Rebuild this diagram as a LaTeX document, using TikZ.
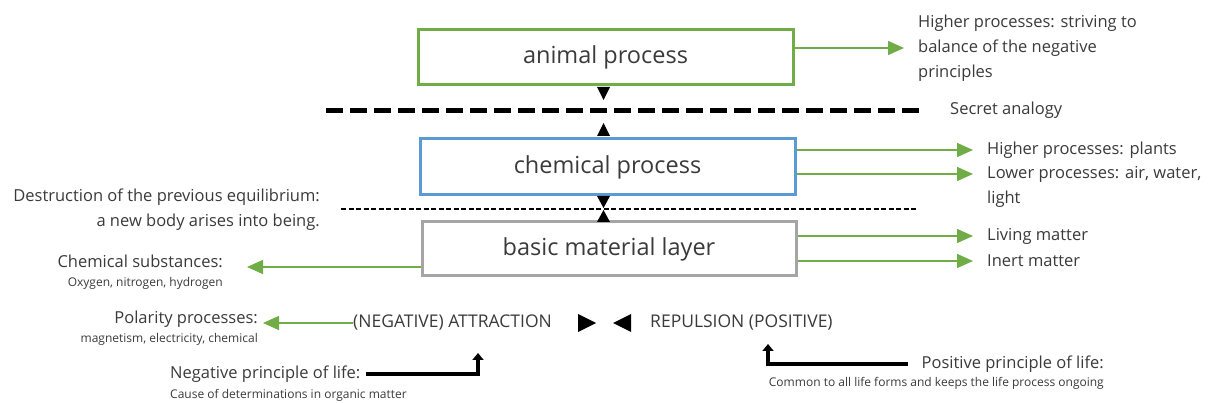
\documentclass[tikz,border=0pt]{standalone}
\usepackage{fontspec}
\setmainfont{Open Sans}
\usetikzlibrary{arrows.meta,calc}
\definecolor{ggreen}{HTML}{70AD47}
\definecolor{bblue}{HTML}{5B9BD5}
\definecolor{ggray}{HTML}{A5A5A5}
\definecolor{txt}{HTML}{3A3A3A}
\begin{document}
\begin{tikzpicture}[x=1pt,y=-1pt,
  box/.style={draw, line width=3pt, minimum width=375pt, minimum height=55pt, inner sep=0pt, text=txt, font=\fontsize{23.5}{28}\selectfont},
  lbl/.style={inner sep=0pt, text=txt, font=\fontsize{16.5}{25}\selectfont},
  caps/.style={inner sep=0pt, text=txt, font=\fontsize{17.5}{25}\selectfont},
  sml/.style={inner sep=0pt, text=txt, font=\fontsize{12}{15}\selectfont},
  garrow/.style={draw=ggreen, line width=1.5pt, -{Triangle[length=16pt,width=14pt]}},
  blkarrow/.style={draw=black, line width=4.5pt, -{Triangle[length=7pt,width=11pt]}},
  bigdash/.style={line width=5pt, dash pattern=on 17pt off 7pt},
  smalldash/.style={line width=1.6pt, dash pattern=on 5pt off 2.5pt}
]
\useasboundingbox (0,0) rectangle (1208,403);

% boxes
\node[box, draw=ggreen] (animal) at (605.5,57) {animal process};
\node[box, draw=bblue, minimum height=56pt] (chem) at (607.5,167) {chemical process};
\node[box, draw=ggray, minimum width=374pt, minimum height=54pt] (basic) at (609,249) {basic material layer};

% dashed separators
\coordinate (d1a) at (326,111);
\coordinate (d1b) at (920,111);
\draw[bigdash] (d1a) -- (d1b);
\coordinate (d2a) at (341,209);
\coordinate (d2b) at (918,209);
\draw[smalldash] (d2a) -- (d2b);

% small triangles toward the separators
\fill (597,87) -- (610,87) -- (603.5,100) -- cycle;
\fill (603.5,123) -- (597,136) -- (610,136) -- cycle;
\fill (597,196) -- (610,196) -- (603.5,208) -- cycle;
\fill (603.5,210) -- (597,222) -- (610,222) -- cycle;

% right side texts
\node[lbl, anchor=west, align=left] (hp) at (918,48) {Higher processes: striving to\\balance of the negative\\principles};
\node[lbl, anchor=west] (sa) at (950,110) {Secret analogy};
\node[lbl, anchor=west] (hp1) at (987,150) {Higher processes: plants};
\node[lbl, anchor=west] (lp1) at (987,174) {Lower processes: air, water,};
\node[lbl, anchor=west] (lp2) at (987,199) {light};
\node[lbl, anchor=west] (lm) at (987,236) {Living matter};
\node[lbl, anchor=west] (im) at (987,261) {Inert matter};

\draw[garrow, shorten >=14pt] (animal.east |- hp.west) -- (hp.west);
\draw[garrow, shorten >=14pt] (chem.east |- hp1.west) -- (hp1.west);
\draw[garrow, shorten >=14pt] (chem.east |- lp1.west) -- (lp1.west);
\draw[garrow, shorten >=14pt] (basic.east |- lm.west) -- (lm.west);
\draw[garrow, shorten >=14pt] (basic.east |- im.west) -- (im.west);

% left side texts
\node[lbl, anchor=east, align=right] (dest) at (320,210) {Destruction of the previous equilibrium:\\a new body arises into being.};
\node[lbl, anchor=east] (cs) at (223,261) {Chemical substances:};
\node[sml, anchor=east] (ox) at (223,283) {Oxygen, nitrogen, hydrogen};
\coordinate (bl) at ($(basic.west)+(0,18)$);
\draw[garrow, shorten >=24pt] (bl) -- (bl -| cs.east);

% polarity row
\node[caps, anchor=west] (attr) at (353,323) {(NEGATIVE) ATTRACTION};
\node[caps, anchor=west] (rep) at (650,323) {REPULSION (POSITIVE)};
\node[lbl, anchor=east] (pol) at (258,319) {Polarity processes:};
\node[sml, anchor=east] (mag) at (258,339) {magnetism, electricity, chemical};
\draw[garrow, shorten >=5pt] (attr.west) -- (attr.west -| pol.east);
\fill (578,314) -- (596,323) -- (578,332) -- cycle;
\fill (631,314) -- (613,323) -- (631,332) -- cycle;

% principles of life
\node[lbl, anchor=west] (np) at (170,374) {Negative principle of life:};
\node[sml, anchor=west] (cd) at (170,395) {Cause of determinations in organic matter};
\coordinate (na) at (478,353);
\draw[blkarrow] ([xshift=5pt]np.east) -| (na);

\node[lbl, anchor=east] (pp) at (1104,364) {Positive principle of life:};
\node[sml, anchor=east] (cf) at (1104,383) {Common to all life forms and keeps the life process ongoing};
\coordinate (pa) at (768,344);
\draw[blkarrow] ([xshift=-13pt]pp.west) -| (pa);
\end{tikzpicture}
\end{document}
